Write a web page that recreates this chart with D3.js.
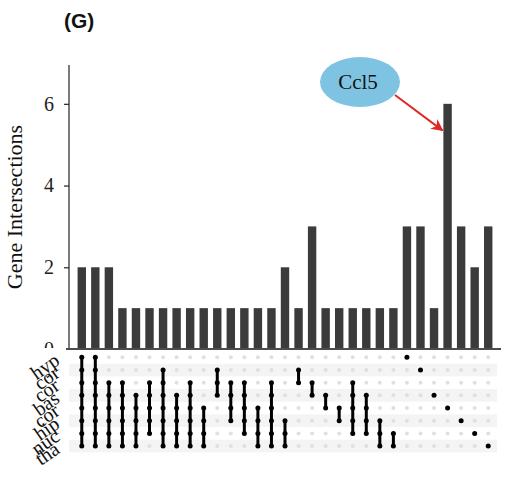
<!DOCTYPE html>
<html>
<head>
<meta charset="utf-8">
<script src="https://cdn.jsdelivr.net/npm/d3@7"></script>
<style>
  html, body { margin: 0; padding: 0; background: #fff; }
  svg { display: block; }
</style>
</head>
<body>
<svg id="chart" width="508" height="479"></svg>
<script>
// Set names (matrix rows, top to bottom)
const setNames = ["hyp", "cor", "cor", "bas", "cor", "hip", "nuc", "tha"];

// Intersection sizes, one per column
const intersectionSizes = [2, 2, 2, 1, 1, 1, 1, 1, 1, 1, 1, 1, 1, 1, 1, 2, 1, 3, 1, 1, 1, 1, 1, 1, 3, 3, 1, 6, 3, 2, 3];

// Member sets (row indices) of each intersection column
const intersectionMembers = [
  [0, 1, 2, 3, 4, 5, 6, 7],
  [0, 1, 2, 3, 4, 5, 6, 7],
  [2, 3, 4, 5, 6, 7],
  [2, 3, 4, 5, 6, 7],
  [3, 4, 5, 6, 7],
  [2, 3, 4, 5, 6],
  [1, 2, 3, 4, 5, 6, 7],
  [3, 4, 5, 6, 7],
  [2, 3, 4, 5, 6, 7],
  [4, 5, 6, 7],
  [1, 2, 3],
  [2, 3, 4, 5],
  [2, 3, 4, 5, 6],
  [4, 5, 6, 7],
  [2, 3, 4, 5, 6, 7],
  [5, 6, 7],
  [1, 2],
  [2, 3],
  [3, 4],
  [4, 5],
  [2, 3, 4, 5, 6],
  [3, 4, 5, 6],
  [5, 6, 7],
  [6, 7],
  [0],
  [1],
  [3],
  [4],
  [5],
  [6],
  [7]
];

// Y axis ticks
const yTicks = [0, 2, 4, 6];

// Highlighted gene label and the column it belongs to
const calloutLabel = "Ccl5";
const calloutColumn = 27;

const svg = d3.select("#chart");
const serif = "'Liberation Serif', 'Times New Roman', serif";

const cols = d3.range(intersectionSizes.length);
const x = d3.scaleBand()
  .domain(cols)
  .range([75, 495])
  .paddingInner(0.38)
  .paddingOuter(0.19);

const y = d3.scaleLinear()
  .domain([0, 6.95])
  .range([349, 65]);

const rowScale = d3.scaleBand()
  .domain(d3.range(setNames.length))
  .range([351, 452.4]);

const cx = i => x(i) + x.bandwidth() / 2;
const cy = r => rowScale(r) + rowScale.bandwidth() / 2;

// Panel label
svg.append("text")
  .attr("x", 64)
  .attr("y", 28)
  .attr("font-family", "'Liberation Sans', Arial, sans-serif")
  .attr("font-weight", "bold")
  .attr("font-size", 21)
  .attr("fill", "#111")
  .text("(G)");

// Bars
svg.append("g")
  .selectAll("rect")
  .data(intersectionSizes)
  .join("rect")
  .attr("x", (d, i) => x(i))
  .attr("width", x.bandwidth())
  .attr("y", d => y(d))
  .attr("height", d => y(0) - y(d))
  .attr("fill", "#3b3b3b");

// Y axis
const yAxis = svg.append("g")
  .attr("transform", "translate(69,0)")
  .call(d3.axisLeft(y).tickValues(yTicks).tickSize(5).tickPadding(10).tickFormat(d3.format("d")));
yAxis.select(".domain").attr("d", `M0,${y.range()[1]}V${y(0)}`).attr("stroke", "#222").attr("stroke-width", 1.2);
yAxis.selectAll(".tick line").attr("stroke", "#222").attr("stroke-width", 1.2);
yAxis.selectAll(".tick text")
  .attr("font-family", serif)
  .attr("font-size", 20)
  .attr("fill", "#222");

// Y axis title
svg.append("text")
  .attr("transform", `translate(22,${(y.range()[0] + y.range()[1]) / 2}) rotate(-90)`)
  .attr("text-anchor", "middle")
  .attr("font-family", serif)
  .attr("font-size", 22)
  .attr("fill", "#111")
  .text("Gene Intersections");

// Matrix panel background sits over the lower edge of the bar panel
svg.append("rect")
  .attr("x", 0)
  .attr("y", 348)
  .attr("width", 508)
  .attr("height", 131)
  .attr("fill", "#fff");

// Bar baseline
svg.append("line")
  .attr("x1", 66).attr("x2", 501)
  .attr("y1", y(0)).attr("y2", y(0))
  .attr("stroke", "#111")
  .attr("stroke-width", 1.6);

// Alternating row stripes
svg.append("g")
  .selectAll("rect")
  .data(d3.range(setNames.length).filter(r => r % 2 === 1))
  .join("rect")
  .attr("x", 69)
  .attr("width", 428)
  .attr("y", r => rowScale(r))
  .attr("height", rowScale.bandwidth())
  .attr("fill", "#f4f4f4");

// Empty grid dots
const grid = [];
cols.forEach(c => d3.range(setNames.length).forEach(r => grid.push({ c, r })));
svg.append("g")
  .selectAll("circle")
  .data(grid)
  .join("circle")
  .attr("cx", d => cx(d.c))
  .attr("cy", d => cy(d.r))
  .attr("r", 2)
  .attr("fill", "#e0e0e0");

// Connecting lines and member dots
const matrix = svg.append("g");
matrix.selectAll("line")
  .data(intersectionMembers.map((m, c) => ({ c, lo: d3.min(m), hi: d3.max(m) })).filter(d => d.hi > d.lo))
  .join("line")
  .attr("x1", d => cx(d.c)).attr("x2", d => cx(d.c))
  .attr("y1", d => cy(d.lo)).attr("y2", d => cy(d.hi))
  .attr("stroke", "#000")
  .attr("stroke-width", 3);

const filled = [];
intersectionMembers.forEach((m, c) => m.forEach(r => filled.push({ c, r })));
matrix.selectAll("circle")
  .data(filled)
  .join("circle")
  .attr("cx", d => cx(d.c))
  .attr("cy", d => cy(d.r))
  .attr("r", 2.5)
  .attr("fill", "#000");

// Set names, rotated
svg.append("g")
  .selectAll("text")
  .data(setNames)
  .join("text")
  .attr("transform", (d, i) => `translate(61,${cy(i) + 6}) rotate(-35)`)
  .attr("text-anchor", "end")
  .attr("font-family", serif)
  .attr("font-size", 20)
  .attr("fill", "#111")
  .text(d => d);

// Callout for the highlighted gene
const bubble = { x: 360, y: 82 };
svg.append("ellipse")
  .attr("cx", bubble.x).attr("cy", bubble.y)
  .attr("rx", 40).attr("ry", 25)
  .attr("fill", "#7fc3e3");
svg.append("text")
  .attr("x", bubble.x - 2).attr("y", bubble.y + 7)
  .attr("text-anchor", "middle")
  .attr("font-family", serif)
  .attr("font-size", 21)
  .attr("fill", "#111")
  .text(calloutLabel);

svg.append("defs").append("marker")
  .attr("id", "arrowhead")
  .attr("viewBox", "0 0 10 10")
  .attr("refX", 9).attr("refY", 5)
  .attr("markerWidth", 7).attr("markerHeight", 6)
  .attr("markerUnits", "strokeWidth")
  .attr("orient", "auto")
  .append("path")
  .attr("d", "M0,0 L10,5 L0,10 L3,5 Z")
  .attr("fill", "#dc2a22");

svg.append("line")
  .attr("x1", 395).attr("y1", 95)
  .attr("x2", x(calloutColumn) - 1).attr("y2", y(5.35))
  .attr("stroke", "#dc2a22")
  .attr("stroke-width", 2)
  .attr("marker-end", "url(#arrowhead)");
</script>
</body>
</html>
